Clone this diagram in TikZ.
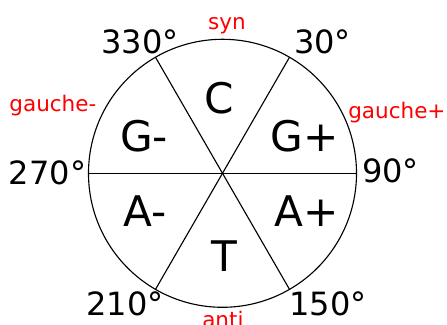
\documentclass[tikz,border=0pt]{standalone}
\usepackage{fontspec}
\setmainfont{DejaVu Sans}
\usepackage{tikz}
\usetikzlibrary{positioning}
\usepackage{xcolor}

\begin{document}
\begin{tikzpicture}[
		sector/.style={
			font=\fontsize{30}{33}\selectfont,
			inner sep=0pt
		},
		angle/.style={
			font=\fontsize{22.8}{26}\selectfont,
			inner sep=0pt
		},
		conf/.style={
			text=red,
			font=\fontsize{15.3}{18}\selectfont,
			inner sep=0pt
		},
		rim/.style={
			line width=0.8pt
		}
		]
		
		\useasboundingbox (-5.5625,-3.7925) rectangle (5.6125,4.3325);
		
		% circle and diameters
		\coordinate (o) at (0,0);
		\draw[rim] (o) circle (3.35);
		\foreach \a in {0,60,120}
			\draw[rim] (\a:3.35) -- (\a+180:3.35);
		
		% sectors
		\node[sector] (c) at (-0.07,1.88) {C};
		\node[sector] (gminus) at (-1.96,0.93) {G-};
		\node[sector] (gplus) at (2.06,0.93) {G+};
		\node[sector] (aminus) at (-1.94,-0.94) {A-};
		\node[sector] (aplus) at (2.11,-0.94) {A+};
		\node[sector] (t) at (0.04,-2.07) {T};
		
		% angles
		\node[angle] (a330) at (-2.06,3.29) {330°};
		\node[angle] (a30) at (2.5,3.29) {30°};
		\node[angle] (a270) at (-4.375,0) {270°};
		\node[angle] (a90) at (4.2,0.05) {90°};
		\node[angle] (a210) at (-2.44,-3.275) {210°};
		\node[angle] (a150) at (2.64,-3.275) {150°};
		
		% syn / anti / gauche
		\node[conf] (syn) at (0.11,3.68) {syn};
		\node[conf] (anti) at (0.01,-3.66) {anti};
		\node[conf] (gaucheminus) at (-4.24,1.70) {gauche-};
		\node[conf] (gaucheplus) at (4.36,1.52) {gauche+};
		
	\end{tikzpicture}
\end{document}
